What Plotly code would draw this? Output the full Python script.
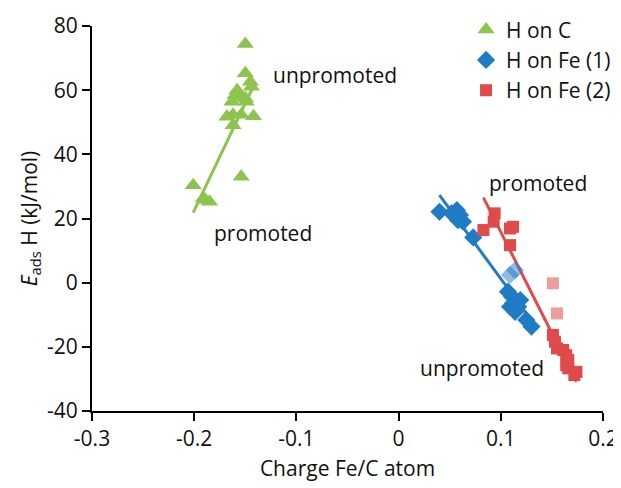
import plotly.graph_objects as go

# ---- data ----
c_x = [-0.150, -0.150, -0.145, -0.144, -0.158, -0.160, -0.155, -0.150, -0.163, -0.149,
       -0.168, -0.162, -0.154, -0.142, -0.162, -0.201, -0.154, -0.191, -0.185, -0.189]
c_y = [74.4, 65.3, 62.6, 61.1, 60.0, 58.5, 58.0, 57.5, 56.4, 56.4,
       51.7, 52.3, 52.3, 51.9, 49.1, 30.4, 33.0, 26.3, 25.2, 25.8]

fe1_x = [0.040, 0.052, 0.057, 0.060, 0.058, 0.063, 0.073, 0.107, 0.111, 0.112,
         0.109, 0.117, 0.114, 0.119, 0.125, 0.130]
fe1_y = [22.1, 21.6, 22.6, 21.1, 19.5, 19.0, 14.1, -2.8, -4.4, -6.4,
         -7.5, -7.5, -9.1, -5.4, -11.6, -13.7]
fe1_light_x = [0.109, 0.114]
fe1_light_y = [2.4, 3.9]

fe2_x = [0.094, 0.093, 0.083, 0.109, 0.112, 0.109, 0.151, 0.153, 0.155, 0.161,
         0.164, 0.166, 0.164, 0.166, 0.174, 0.172]
fe2_y = [21.6, 19.0, 16.4, 16.9, 17.4, 11.7, -16.3, -18.4, -20.5, -21.0,
         -22.6, -24.1, -25.7, -26.7, -27.8, -28.8]
fe2_light_x = [0.151, 0.155]
fe2_light_y = [-0.2, -9.6]

# trend lines (end points)
fit_c_x = [-0.201, -0.142]
fit_c_y = [21.8, 61.3]
fit_fe1_x = [0.040, 0.132]
fit_fe1_y = [27.3, -12.7]
fit_fe2_x = [0.083, 0.174]
fit_fe2_y = [26.5, -30.9]

x_ticks = [-0.3, -0.2, -0.1, 0, 0.1, 0.2]
x_tick_text = ["-0.3", "-0.2", "-0.1", "0", "0.1", "0.2"]
y_ticks = [-40, -20, 0, 20, 40, 60, 80]
y_tick_text = ["-40", "-20", "0", "20", "40", "60", "80"]

GREEN = "#8DC44E"
BLUE = "#1F7BC4"
RED = "#E04A4A"
FONT = "Open Sans"

fig = go.Figure()

# lines first
fig.add_trace(go.Scatter(x=fit_c_x, y=fit_c_y, mode="lines",
                         line=dict(color=GREEN, width=3), showlegend=False, hoverinfo="skip"))
fig.add_trace(go.Scatter(x=fit_fe1_x, y=fit_fe1_y, mode="lines",
                         line=dict(color=BLUE, width=3), showlegend=False, hoverinfo="skip"))
fig.add_trace(go.Scatter(x=fit_fe2_x, y=fit_fe2_y, mode="lines",
                         line=dict(color=RED, width=3), showlegend=False, hoverinfo="skip"))

fig.add_trace(go.Scatter(x=fe1_light_x, y=fe1_light_y, mode="markers",
                         marker=dict(symbol="diamond", size=14, color="rgba(31,123,196,0.5)"),
                         showlegend=False))
fig.add_trace(go.Scatter(x=fe2_light_x, y=fe2_light_y, mode="markers",
                         marker=dict(symbol="square", size=12, color="rgba(224,74,74,0.55)"),
                         showlegend=False))

fig.add_trace(go.Scatter(x=c_x, y=c_y, mode="markers", name="H on C",
                         marker=dict(symbol="triangle-up", size=15, color=GREEN)))
fig.add_trace(go.Scatter(x=fe1_x, y=fe1_y, mode="markers", name="H on Fe (1)",
                         marker=dict(symbol="diamond", size=14, color=BLUE)))
fig.add_trace(go.Scatter(x=fe2_x, y=fe2_y, mode="markers", name="H on Fe (2)",
                         marker=dict(symbol="square", size=12, color=RED)))

ann_font = dict(family=FONT, size=21, color="#111111")
annotations = [
    dict(x=-0.062, y=64.7, text="unpromoted"),
    dict(x=-0.133, y=15.5, text="promoted"),
    dict(x=0.136, y=31.1, text="promoted"),
    dict(x=0.082, y=-26.6, text="unpromoted"),
]
for a in annotations:
    fig.add_annotation(x=a["x"], y=a["y"], text=a["text"], showarrow=False,
                       xref="x", yref="y", font=ann_font)

fig.update_layout(
    width=621, height=488,
    margin=dict(l=84, r=26, t=18, b=85, autoexpand=False),
    paper_bgcolor="white", plot_bgcolor="white",
    font=dict(family=FONT, size=21, color="#111111"),
    legend=dict(x=0.732, y=1.043, xanchor="left", yanchor="top",
                bgcolor="rgba(0,0,0,0)", font=dict(family=FONT, size=21),
                itemsizing="trace", itemwidth=30, tracegroupgap=0),
    xaxis=dict(range=[-0.3, 0.2], tickvals=x_ticks, ticktext=x_tick_text,
               showgrid=False, zeroline=False, showline=True, linecolor="black",
               linewidth=2, ticks="outside", ticklen=8, tickwidth=2, tickcolor="black",
               automargin=False,
               title=dict(text="Charge Fe/C atom", font=dict(family=FONT, size=21), standoff=10)),
    yaxis=dict(range=[-40, 80], tickvals=y_ticks, ticktext=y_tick_text,
               showgrid=False, zeroline=False, showline=True, linecolor="black",
               linewidth=2, ticks="outside", ticklen=8, tickwidth=2, tickcolor="black",
               automargin=False,
               title=dict(text="<i>E</i><sub>ads</sub> H (kJ/mol)",
                          font=dict(family=FONT, size=21), standoff=4)),
)

fig.write_html("out.html")
